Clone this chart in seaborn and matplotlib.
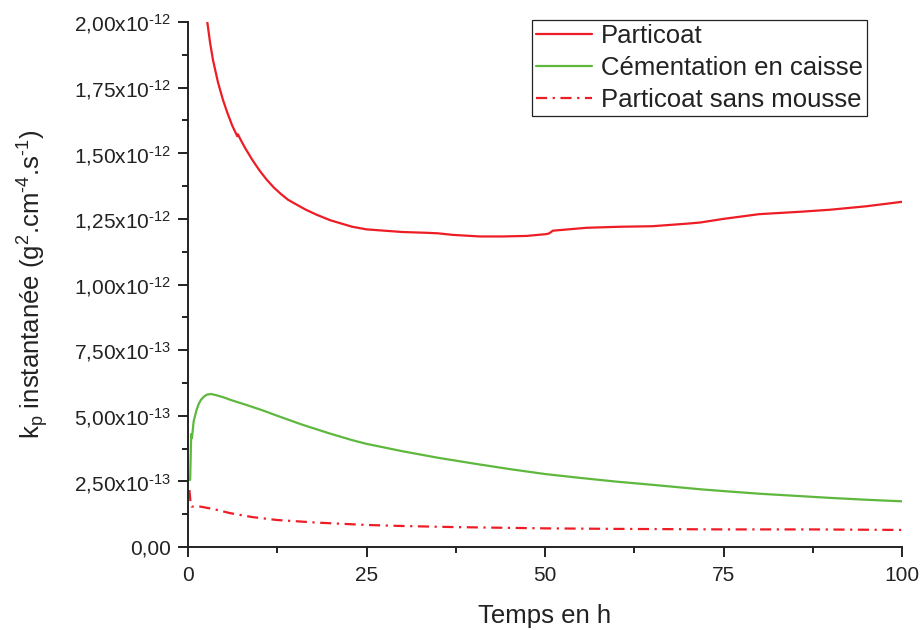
import numpy as np
import pandas as pd
import matplotlib
matplotlib.use("Agg")
import matplotlib.pyplot as plt
from matplotlib.ticker import FuncFormatter, MultipleLocator
import seaborn as sns

# Particoat (k_p in 1e-12 g^2.cm^-4.s^-1)
t_particoat = [2.2, 2.7, 3.1, 3.5, 4.2, 4.9, 5.5, 6.2, 6.9, 7.0, 7.3, 8.0, 9.0, 10.0,
               11.0, 12.0, 13.0, 14.0, 15.3, 16.5, 18.0, 19.9, 21.5, 23.0, 25, 27.5,
               30, 33.4, 35, 37.1, 40.9, 44, 47.4, 50.2, 50.6, 51.1, 55.8, 60.5, 65,
               70, 71.7, 75, 80, 85.7, 90, 95, 100]
kp_particoat = [2.15, 2.00, 1.92, 1.855, 1.77, 1.703, 1.655, 1.605, 1.565, 1.572,
                1.555, 1.52, 1.475, 1.435, 1.40, 1.37, 1.345, 1.323, 1.303, 1.285,
                1.266, 1.245, 1.232, 1.220, 1.210, 1.205, 1.20, 1.197, 1.195, 1.189,
                1.183, 1.183, 1.185, 1.192, 1.195, 1.205, 1.216, 1.220, 1.222, 1.232,
                1.236, 1.25, 1.268, 1.277, 1.285, 1.298, 1.315]

# Cémentation en caisse (k_p in 1e-13)
t_cementation = [0.3, 0.45, 0.55, 0.8, 1.2, 1.5, 1.8, 2.2, 2.6, 3.2, 4, 5, 6, 8.2,
                 10.5, 12.9, 16, 19.9, 23, 25, 30, 35, 40, 45, 50, 55, 60, 65, 71.7,
                 75, 80, 85, 90, 95, 100]
kp_cementation = [2.55, 4.30, 4.15, 4.8, 5.22, 5.45, 5.6, 5.72, 5.80, 5.83, 5.78,
                  5.70, 5.6, 5.41, 5.2, 4.96, 4.66, 4.32, 4.07, 3.93, 3.65, 3.40,
                  3.18, 2.97, 2.78, 2.63, 2.49, 2.37, 2.20, 2.13, 2.03, 1.95, 1.87,
                  1.80, 1.74]

# Particoat sans mousse (k_p in 1e-13)
t_sans_mousse = [0.2, 0.35, 0.5, 1.7, 3.5, 5.9, 9, 12.4, 18, 25, 30, 37, 50, 60, 75,
                 87, 100]
kp_sans_mousse = [2.17, 1.70, 1.54, 1.54, 1.45, 1.29, 1.14, 1.03, 0.93, 0.84, 0.80,
                  0.76, 0.71, 0.69, 0.67, 0.67, 0.65]

labels = ["Particoat", "Cémentation en caisse", "Particoat sans mousse"]

sns.set_theme(style="ticks")
plt.rcParams["font.family"] = ["Liberation Sans", "DejaVu Sans"]
plt.rcParams["mathtext.fontset"] = "custom"
plt.rcParams["mathtext.rm"] = "Liberation Sans"
plt.rcParams["mathtext.it"] = "Liberation Sans"
plt.rcParams["mathtext.default"] = "regular"

fig = plt.figure(figsize=(9.23, 6.3), dpi=100)
ax = fig.add_axes([188 / 923, 1 - 547 / 630, (902 - 188) / 923, (547 - 22) / 630])

red = "#EE1D25"
green = "#5FB83E"

sns.lineplot(x=np.array(t_particoat), y=np.array(kp_particoat) * 1e-12, ax=ax,
             color=red, lw=1.6, label=labels[0])
sns.lineplot(x=np.array(t_cementation), y=np.array(kp_cementation) * 1e-13, ax=ax,
             color=green, lw=1.6, label=labels[1])
sns.lineplot(x=np.array(t_sans_mousse), y=np.array(kp_sans_mousse) * 1e-13, ax=ax,
             color=red, lw=1.6, label=labels[2], dashes=False,
             linestyle=(0, (5, 2.5, 1, 2.5)))

ax.set_xlim(0, 100)
ax.set_ylim(0, 2e-12)
ax.xaxis.set_major_locator(MultipleLocator(25))
ax.xaxis.set_minor_locator(MultipleLocator(12.5))
ax.yaxis.set_major_locator(MultipleLocator(2.5e-13))
ax.yaxis.set_minor_locator(MultipleLocator(1.25e-13))

HYPHEN = "\u2010"


def fmt_y(v, pos):
    if abs(v) < 1e-20:
        return "0,00"
    exp = int(np.floor(np.log10(abs(v)) + 1e-9))
    mant = v / 10 ** exp
    exp_txt = str(exp).replace("-", HYPHEN)
    return "{:.2f}".format(mant).replace(".", ",") + "x10$^{" + exp_txt + "}$"


ax.yaxis.set_major_formatter(FuncFormatter(fmt_y))
ax.xaxis.set_major_formatter(FuncFormatter(lambda v, p: "{:g}".format(v)))

for side in ["top", "right"]:
    ax.spines[side].set_visible(False)
for side in ["left", "bottom"]:
    ax.spines[side].set_linewidth(1.4)
    ax.spines[side].set_color("#222222")

ax.tick_params(which="major", direction="out", length=7, width=1.4, color="#222222",
               labelsize=15, labelcolor="#222222")
ax.tick_params(axis="x", which="major", pad=6.5)
ax.tick_params(axis="y", which="major", pad=5)
ax.tick_params(which="minor", direction="out", length=4.5, width=1.4, color="#222222")

ax.set_xlabel("Temps en h", fontsize=18.5, color="#222222", labelpad=14)
ax.set_ylabel("k$_p$ instantanée (g$^2$.cm$^{" + HYPHEN + "4}$.s$^{" + HYPHEN + "1}$)",
              fontsize=18.5, color="#222222")
ax.yaxis.set_label_coords(-0.192, 0.5)

leg = ax.legend(loc="upper right", bbox_to_anchor=(0.951, 1.004), borderaxespad=0,
                fontsize=18.5, frameon=True, fancybox=False, framealpha=1,
                edgecolor="#222222", handlelength=2.2, handletextpad=0.35,
                labelspacing=0.32, borderpad=0.15)
leg.get_frame().set_linewidth(0.9)
for txt in leg.get_texts():
    txt.set_color("#222222")

fig.savefig("out.png", dpi=100)
